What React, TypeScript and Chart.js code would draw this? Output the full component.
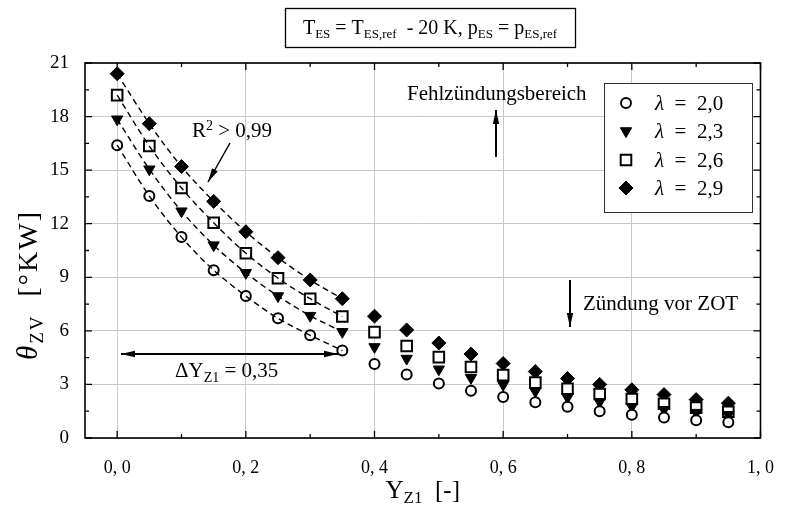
import React, { useEffect, useRef } from "react";
import { Chart, registerables } from "chart.js";

Chart.register(...registerables);

const yzValues = [0, 0.05, 0.1, 0.15, 0.2, 0.25, 0.3, 0.35, 0.4, 0.45, 0.5, 0.55, 0.6, 0.65, 0.7, 0.75, 0.8, 0.85, 0.9, 0.95];
const lambda20 = [16.4, 13.55, 11.25, 9.4, 7.95, 6.7, 5.75, 4.9, 4.15, 3.55, 3.05, 2.65, 2.3, 2.0, 1.75, 1.5, 1.3, 1.15, 1.0, 0.88];
const lambda23 = [17.85, 15.05, 12.7, 10.8, 9.25, 7.95, 6.85, 5.95, 5.1, 4.45, 3.85, 3.37, 2.98, 2.62, 2.27, 2.02, 1.75, 1.58, 1.42, 1.3];
const lambda26 = [19.2, 16.35, 14.0, 12.05, 10.35, 8.95, 7.8, 6.8, 5.93, 5.15, 4.53, 3.98, 3.52, 3.1, 2.76, 2.46, 2.18, 1.92, 1.7, 1.47];
const lambda29 = [20.4, 17.6, 15.2, 13.25, 11.55, 10.1, 8.85, 7.8, 6.82, 6.05, 5.32, 4.7, 4.17, 3.72, 3.33, 3.0, 2.7, 2.43, 2.15, 1.95];
const fitCount = 8; // fitted range Y_Z1 = 0 ... 0.35

const seriesLabels = ["2,0", "2,3", "2,6", "2,9"];
const xTickValues = [0, 0.2, 0.4, 0.6, 0.8, 1.0];
const xMinorTicks = [0.1, 0.3, 0.5, 0.7, 0.9];
const yTickValues = [0, 3, 6, 9, 12, 15, 18, 21];
const yMinorTicks = [1.5, 4.5, 7.5, 10.5, 13.5, 16.5, 19.5];

const SERIF = '"Liberation Serif", "Times New Roman", serif';

type Part = { t: string; size: number; italic?: boolean; dy?: number };

function drawRich(ctx: CanvasRenderingContext2D, parts: Part[], x: number, y: number, align: "left" | "center") {
  let total = 0;
  for (const p of parts) {
    ctx.font = `${p.italic ? "italic " : ""}${p.size}px ${SERIF}`;
    total += ctx.measureText(p.t).width;
  }
  let cx = align === "center" ? x - total / 2 : x;
  ctx.textAlign = "left";
  ctx.textBaseline = "alphabetic";
  for (const p of parts) {
    ctx.font = `${p.italic ? "italic " : ""}${p.size}px ${SERIF}`;
    ctx.fillText(p.t, cx, y + (p.dy || 0));
    cx += ctx.measureText(p.t).width;
  }
}

function arrowHead(ctx: CanvasRenderingContext2D, fx: number, fy: number, tx: number, ty: number, len = 14, half = 3.2) {
  const a = Math.atan2(ty - fy, tx - fx);
  ctx.beginPath();
  ctx.moveTo(tx, ty);
  ctx.lineTo(tx - len * Math.cos(a) + half * Math.sin(a), ty - len * Math.sin(a) - half * Math.cos(a));
  ctx.lineTo(tx - len * Math.cos(a) - half * Math.sin(a), ty - len * Math.sin(a) + half * Math.cos(a));
  ctx.closePath();
  ctx.fill();
}

function arrow(ctx: CanvasRenderingContext2D, fx: number, fy: number, tx: number, ty: number, both = false) {
  ctx.beginPath();
  ctx.moveTo(fx, fy);
  ctx.lineTo(tx, ty);
  ctx.stroke();
  arrowHead(ctx, fx, fy, tx, ty);
  if (both) arrowHead(ctx, tx, ty, fx, fy);
}

function drawMarker(ctx: CanvasRenderingContext2D, kind: number, x: number, y: number) {
  ctx.save();
  ctx.strokeStyle = "#000";
  ctx.fillStyle = "#000";
  ctx.beginPath();
  if (kind === 0) {
    ctx.lineWidth = 2;
    ctx.arc(x, y, 5, 0, Math.PI * 2);
    ctx.fillStyle = "#fff";
    ctx.fill();
    ctx.stroke();
  } else if (kind === 1) {
    ctx.lineWidth = 1;
    const r = 6.5;
    ctx.moveTo(x, y + r);
    ctx.lineTo(x - r * 0.866, y - r * 0.5);
    ctx.lineTo(x + r * 0.866, y - r * 0.5);
    ctx.closePath();
    ctx.fill();
    ctx.stroke();
  } else if (kind === 2) {
    ctx.lineWidth = 2;
    const s = 5.3;
    ctx.rect(x - s, y - s, 2 * s, 2 * s);
    ctx.fillStyle = "#fff";
    ctx.fill();
    ctx.stroke();
  } else {
    ctx.lineWidth = 1;
    const r = 7;
    ctx.moveTo(x - r, y);
    ctx.lineTo(x, y - r);
    ctx.lineTo(x + r, y);
    ctx.lineTo(x, y + r);
    ctx.closePath();
    ctx.fill();
    ctx.stroke();
  }
  ctx.restore();
}

const decorPlugin = {
  id: "decor",
  afterDraw(chart: any) {
    const ctx: CanvasRenderingContext2D = chart.ctx;
    const { left, right, top, bottom } = chart.chartArea;
    const xs = chart.scales.x;
    const ys = chart.scales.y;
    ctx.save();
    ctx.strokeStyle = "#000";
    ctx.fillStyle = "#000";

    // inward ticks on all four sides
    ctx.lineWidth = 1.3;
    ctx.beginPath();
    const tick = (vals: number[], len: number) => {
      for (const v of vals) {
        const px = xs.getPixelForValue(v);
        ctx.moveTo(px, bottom);
        ctx.lineTo(px, bottom - len);
        ctx.moveTo(px, top);
        ctx.lineTo(px, top + len);
      }
    };
    const tickY = (vals: number[], len: number) => {
      for (const v of vals) {
        const py = ys.getPixelForValue(v);
        ctx.moveTo(left, py);
        ctx.lineTo(left + len, py);
        ctx.moveTo(right, py);
        ctx.lineTo(right - len, py);
      }
    };
    tick(xTickValues, 7);
    tick(xMinorTicks, 4);
    tickY(yTickValues, 7);
    tickY(yMinorTicks, 4);
    ctx.stroke();

    // frame
    ctx.lineWidth = 1.6;
    ctx.strokeRect(left, top, right - left, bottom - top);

    // title box
    ctx.lineWidth = 1.3;
    ctx.fillStyle = "#fff";
    ctx.fillRect(285.5, 8.5, 290, 39);
    ctx.strokeRect(285.5, 8.5, 290, 39);
    ctx.fillStyle = "#000";
    drawRich(ctx, [
      { t: "T", size: 20 }, { t: "ES", size: 13, dy: 4 },
      { t: " = T", size: 20 }, { t: "ES,ref", size: 13, dy: 4 },
      { t: "  - 20 K, p", size: 20 }, { t: "ES", size: 13, dy: 4 },
      { t: " = p", size: 20 }, { t: "ES,ref", size: 13, dy: 4 },
    ], 430, 34, "center");

    // axis titles
    drawRich(ctx, [
      { t: "Y", size: 25 }, { t: "Z1", size: 17, dy: 5 }, { t: "  [-]", size: 25 },
    ], (left + right) / 2, 498, "center");
    ctx.save();
    ctx.translate(37, 285);
    ctx.rotate(-Math.PI / 2);
    (ctx as any).letterSpacing = "2px";
    drawRich(ctx, [
      { t: "θ", size: 29, italic: true }, { t: "ZV", size: 19, dy: 6 }, { t: "  [°KW]", size: 28 },
    ], 0, 0, "center");
    (ctx as any).letterSpacing = "0px";
    ctx.restore();

    // annotations
    drawRich(ctx, [{ t: "Fehlzündungsbereich", size: 21 }], 407, 100, "left");
    ctx.lineWidth = 2;
    arrow(ctx, 496, 157, 496, 110);
    drawRich(ctx, [{ t: "Zündung vor ZOT", size: 21 }], 583, 310, "left");
    arrow(ctx, 570, 280, 570, 327);
    drawRich(ctx, [{ t: "R", size: 21 }, { t: "2", size: 14, dy: -7 }, { t: " > 0,99", size: 21 }], 192, 137, "left");
    ctx.lineWidth = 1.5;
    arrow(ctx, 230, 143, 208, 182);
    ctx.lineWidth = 1.8;
    arrow(ctx, 121, 354, 338, 354, true);
    drawRich(ctx, [{ t: "ΔY", size: 21 }, { t: "Z1", size: 14, dy: 5 }, { t: " = 0,35", size: 21 }], 175, 377, "left");

    // legend
    ctx.lineWidth = 1;
    ctx.strokeStyle = "#333";
    ctx.fillStyle = "#fff";
    ctx.fillRect(604.5, 83.5, 148, 129);
    ctx.strokeRect(604.5, 83.5, 148, 129);
    ctx.fillStyle = "#000";
    const rows = [103, 131, 160, 188];
    seriesLabels.forEach((lab, i) => {
      drawMarker(ctx, i, 626, rows[i]);
      drawRich(ctx, [{ t: "λ", size: 21, italic: true }, { t: "\u2002=\u2002" + lab, size: 21 }], 655, rows[i] + 7, "left");
    });
    ctx.restore();
  },
};

function pts(vals: number[], n = vals.length) {
  return vals.slice(0, n).map((v, i) => ({ x: yzValues[i], y: v }));
}

export default function App() {
  const ref = useRef<HTMLCanvasElement>(null);
  useEffect(() => {
    if (!ref.current) return;
    const series = [lambda20, lambda23, lambda26, lambda29];
    const fitSets = series.map((s) => ({
      data: pts(s, fitCount),
      showLine: true,
      borderColor: "#000",
      borderWidth: 1.4,
      borderDash: [6, 4],
      pointRadius: 0,
      cubicInterpolationMode: "monotone" as const,
      fill: false,
    }));
    const styles = [
      { pointStyle: "circle", pointRadius: 5, pointBorderWidth: 2, pointBackgroundColor: "#fff", rotation: 0 },
      { pointStyle: "triangle", pointRadius: 6.5, pointBorderWidth: 1, pointBackgroundColor: "#000", rotation: 180 },
      { pointStyle: "rect", pointRadius: 7.5, pointBorderWidth: 2, pointBackgroundColor: "#fff", rotation: 0 },
      { pointStyle: "rectRot", pointRadius: 7, pointBorderWidth: 1, pointBackgroundColor: "#000", rotation: 0 },
    ];
    const markerSets = series.map((s, i) => ({
      label: "λ = " + seriesLabels[i],
      data: pts(s),
      showLine: false,
      pointBorderColor: "#000",
      ...styles[i],
    }));
    const chart = new Chart(ref.current, {
      type: "scatter",
      data: { datasets: [...fitSets, ...markerSets] as any },
      plugins: [decorPlugin],
      options: {
        animation: false,
        responsive: false,
        devicePixelRatio: 1,
        layout: { padding: { top: 63, right: 17, left: 0, bottom: 0 } },
        plugins: { legend: { display: false }, tooltip: { enabled: false } },
        scales: {
          x: {
            type: "linear",
            min: -0.05,
            max: 1.0,
            afterBuildTicks: (s: any) => { s.ticks = xTickValues.map((v) => ({ value: v })); },
            afterFit: (s: any) => { s.height = 74; },
            grid: { color: "#c8c8c8", lineWidth: 1, drawTicks: false },
            border: { display: false },
            ticks: {
              padding: 19,
              color: "#000",
              font: { family: SERIF, size: 18 },
              callback: (v: any) => Number(v).toFixed(1).replace(".", ", "),
            },
          },
          y: {
            type: "linear",
            min: 0,
            max: 21,
            afterBuildTicks: (s: any) => { s.ticks = yTickValues.map((v) => ({ value: v })); },
            afterFit: (s: any) => { s.width = 85; },
            grid: { color: "#c8c8c8", lineWidth: 1, drawTicks: false },
            border: { display: false },
            ticks: {
              padding: 16,
              color: "#000",
              font: { family: SERIF, size: 19 },
              callback: (v: any) => String(v),
            },
          },
        },
      },
    });
    return () => chart.destroy();
  }, []);
  return (
    <div style={{ position: "fixed", left: 0, top: 0, width: 793, height: 512, background: "#fff" }}>
      <canvas ref={ref} width={793} height={512} style={{ width: 793, height: 512 }} />
    </div>
  );
}
